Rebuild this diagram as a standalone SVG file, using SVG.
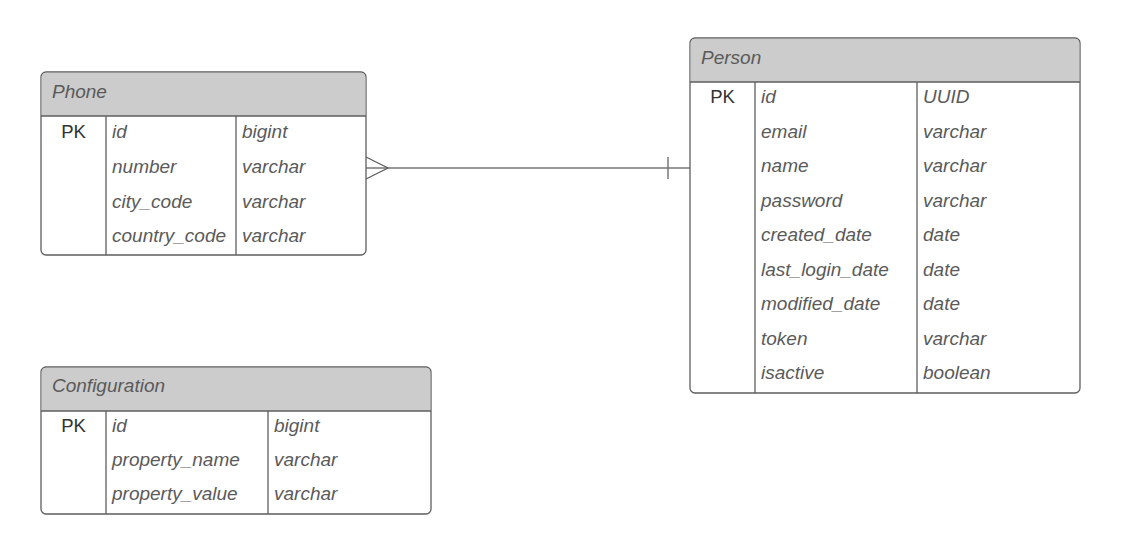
<svg xmlns="http://www.w3.org/2000/svg" width="1135" height="542" viewBox="0 0 1135 542">
<style>
.box{fill:#ffffff;stroke:#5e5e5e;stroke-width:1.3}
.hdr{fill:#cccccc;stroke:none}
.ln{stroke:#5e5e5e;stroke-width:1.3;fill:none}
.t{font-family:"Liberation Sans",Arial,sans-serif;font-size:19px;font-style:italic;fill:#5a5a5a}
.pk{font-family:"Liberation Sans",Arial,sans-serif;font-size:18.5px;fill:#333333;text-anchor:middle}
.conn{stroke:#777777;stroke-width:1.5;fill:none}
</style>
<rect width="1135" height="542" fill="#ffffff"/>
<g id="connectors">
<line class="conn" x1="366" y1="168" x2="690" y2="168"/>
<polyline class="ln" points="366,157 388,168 366,179"/>
<line class="conn" x1="668" y1="157" x2="668" y2="179"/>
</g>
<g id="phone">
<rect class="box" x="41" y="72" width="325" height="183" rx="5"/>
<path class="hdr" d="M46,72.7 H361 A4.3,4.3 0 0 1 365.3,77 V116 H41.7 V77 A4.3,4.3 0 0 1 46,72.7 Z"/>
<line class="ln" x1="41" y1="116" x2="366" y2="116"/>
<line class="ln" x1="106" y1="116" x2="106" y2="255"/>
<line class="ln" x1="236" y1="116" x2="236" y2="255"/>
<text class="t" x="52" y="98">Phone</text>
<text class="pk" x="73.5" y="138">PK</text>
<text class="t" x="112" y="138">id</text><text class="t" x="242" y="138">bigint</text>
<text class="t" x="112" y="173">number</text><text class="t" x="242" y="173">varchar</text>
<text class="t" x="112" y="207.5">city_code</text><text class="t" x="242" y="207.5">varchar</text>
<text class="t" x="112" y="242">country_code</text><text class="t" x="242" y="242">varchar</text>
</g>
<g id="person">
<rect class="box" x="690" y="38" width="390" height="355" rx="5"/>
<path class="hdr" d="M695,38.7 H1075 A4.3,4.3 0 0 1 1079.3,43 V82 H690.7 V43 A4.3,4.3 0 0 1 695,38.7 Z"/>
<line class="ln" x1="690" y1="82" x2="1080" y2="82"/>
<line class="ln" x1="755" y1="82" x2="755" y2="393"/>
<line class="ln" x1="917" y1="82" x2="917" y2="393"/>
<text class="t" x="701" y="63.5">Person</text>
<text class="pk" x="722.5" y="103">PK</text>
<text class="t" x="761" y="103">id</text><text class="t" x="923" y="103">UUID</text>
<text class="t" x="761" y="137.5">email</text><text class="t" x="923" y="137.5">varchar</text>
<text class="t" x="761" y="172">name</text><text class="t" x="923" y="172">varchar</text>
<text class="t" x="761" y="206.5">password</text><text class="t" x="923" y="206.5">varchar</text>
<text class="t" x="761" y="241">created_date</text><text class="t" x="923" y="241">date</text>
<text class="t" x="761" y="275.5">last_login_date</text><text class="t" x="923" y="275.5">date</text>
<text class="t" x="761" y="310">modified_date</text><text class="t" x="923" y="310">date</text>
<text class="t" x="761" y="344.5">token</text><text class="t" x="923" y="344.5">varchar</text>
<text class="t" x="761" y="379">isactive</text><text class="t" x="923" y="379">boolean</text>
</g>
<g id="configuration">
<rect class="box" x="41" y="367" width="390" height="147" rx="5"/>
<path class="hdr" d="M46,367.7 H426 A4.3,4.3 0 0 1 430.3,372 V411 H41.7 V372 A4.3,4.3 0 0 1 46,367.7 Z"/>
<line class="ln" x1="41" y1="411" x2="431" y2="411"/>
<line class="ln" x1="106" y1="411" x2="106" y2="514"/>
<line class="ln" x1="268" y1="411" x2="268" y2="514"/>
<text class="t" x="52" y="392">Configuration</text>
<text class="pk" x="73.5" y="431.5">PK</text>
<text class="t" x="112" y="431.5">id</text><text class="t" x="274" y="431.5">bigint</text>
<text class="t" x="112" y="466">property_name</text><text class="t" x="274" y="466">varchar</text>
<text class="t" x="112" y="500">property_value</text><text class="t" x="274" y="500">varchar</text>
</g>
</svg>
